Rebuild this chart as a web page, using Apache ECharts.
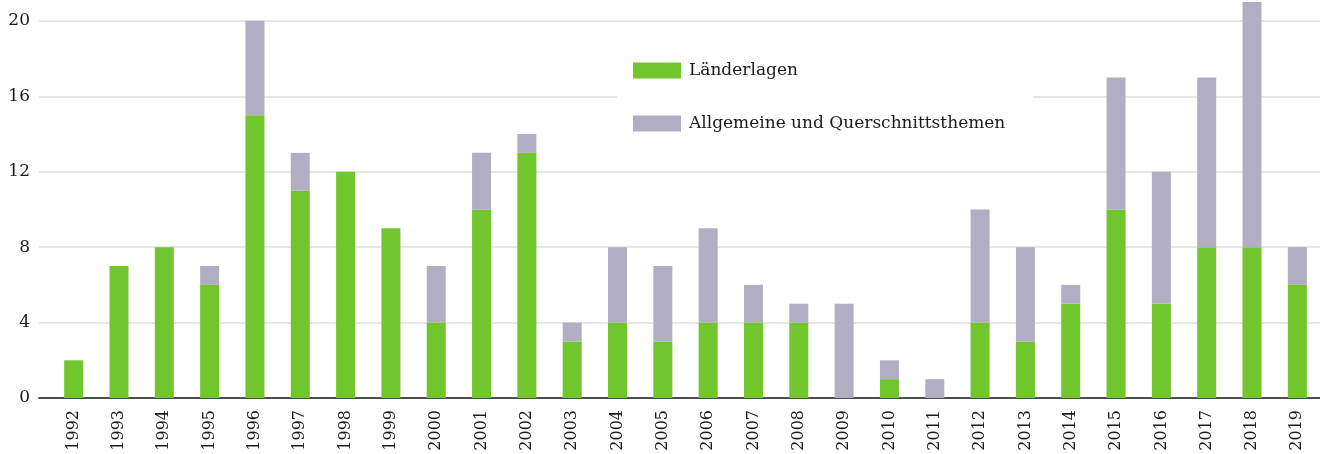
<!DOCTYPE html>
<html>
<head>
<meta charset="utf-8">
<script src="https://cdn.jsdelivr.net/npm/echarts@6/dist/echarts.min.js"></script>
<style>
html, body { margin: 0; padding: 0; background: #fff; }
#chart { width: 1320px; height: 454px; }
</style>
</head>
<body>
<div id="chart"></div>
<script>
var years = ['1992', '1993', '1994', '1995', '1996', '1997', '1998', '1999', '2000', '2001',
    '2002', '2003', '2004', '2005', '2006', '2007', '2008', '2009', '2010', '2011',
    '2012', '2013', '2014', '2015', '2016', '2017', '2018', '2019'];
var laenderlagen = [2, 7, 8, 6, 15, 11, 12, 9, 4, 10, 13, 3, 4, 3, 4, 4, 4, 0, 1, 0, 4, 3, 5, 10, 5, 8, 8, 6];
var allgemein = [0, 0, 0, 1, 5, 2, 0, 0, 3, 3, 1, 1, 4, 4, 5, 2, 1, 5, 1, 1, 6, 5, 1, 7, 7, 9, 13, 2];
var yTicks = [0, 4, 8, 12, 16, 20];

var serif = '"DejaVu Serif", "Liberation Serif", serif';
var green = '#70c62c';
var grey = '#b1aec4';

var myChart = echarts.init(document.getElementById('chart'));

var option = {
    animation: false,
    backgroundColor: '#fff',
    grid: [
        // grid for gridlines / y labels / baseline
        { left: 39, right: 0, top: 2, bottom: 56 },
        // grid for the bars
        { left: 51, right: 0, top: 2, bottom: 56 }
    ],
    legend: {
        orient: 'vertical',
        left: 617,
        top: 46,
        padding: [16, 28, 20, 16],
        backgroundColor: '#fff',
        itemWidth: 48,
        itemHeight: 16,
        itemGap: 36,
        icon: 'rect',
        textStyle: {
            fontFamily: serif,
            fontSize: 17,
            color: '#1a1a1a',
            padding: [2, 0, 0, 3]
        },
        data: ['Länderlagen', 'Allgemeine und Querschnittsthemen']
    },
    xAxis: [
        {
            gridIndex: 0,
            type: 'value',
            min: 0,
            max: 1,
            axisLine: { show: true, lineStyle: { color: '#4d4d4d', width: 2 } },
            axisTick: { show: false },
            axisLabel: { show: false },
            splitLine: { show: false }
        },
        {
            gridIndex: 1,
            type: 'category',
            data: years,
            axisLine: { show: false },
            axisTick: { show: false },
            axisLabel: {
                rotate: 90,
                interval: 0,
                margin: 12,
                fontFamily: serif,
                fontSize: 16,
                color: '#1a1a1a'
            }
        }
    ],
    yAxis: [
        {
            gridIndex: 0,
            type: 'value',
            min: 0,
            max: 21,
            interval: 4,
            axisLine: { show: false },
            axisTick: { show: false },
            axisLabel: {
                margin: 9,
                fontFamily: serif,
                fontSize: 17,
                color: '#1a1a1a',
                showMaxLabel: false,
                formatter: function (v) { return yTicks.indexOf(v) >= 0 ? String(v) : ''; }
            },
            splitLine: { show: true, showMinLine: false, showMaxLine: false, lineStyle: { color: '#e6e6e6', width: 2 } }
        },
        {
            gridIndex: 1,
            type: 'value',
            min: 0,
            max: 21,
            show: false,
            splitLine: { show: false }
        }
    ],
    series: [
        {
            name: 'Länderlagen',
            type: 'bar',
            stack: 'total',
            xAxisIndex: 1,
            yAxisIndex: 1,
            barWidth: 19,
            itemStyle: { color: green },
            data: laenderlagen
        },
        {
            name: 'Allgemeine und Querschnittsthemen',
            type: 'bar',
            stack: 'total',
            xAxisIndex: 1,
            yAxisIndex: 1,
            barWidth: 19,
            itemStyle: { color: grey },
            data: allgemein
        }
    ]
};

myChart.setOption(option);

window.onresize = function () {
    myChart.resize();
};
</script>
</body>
</html>
